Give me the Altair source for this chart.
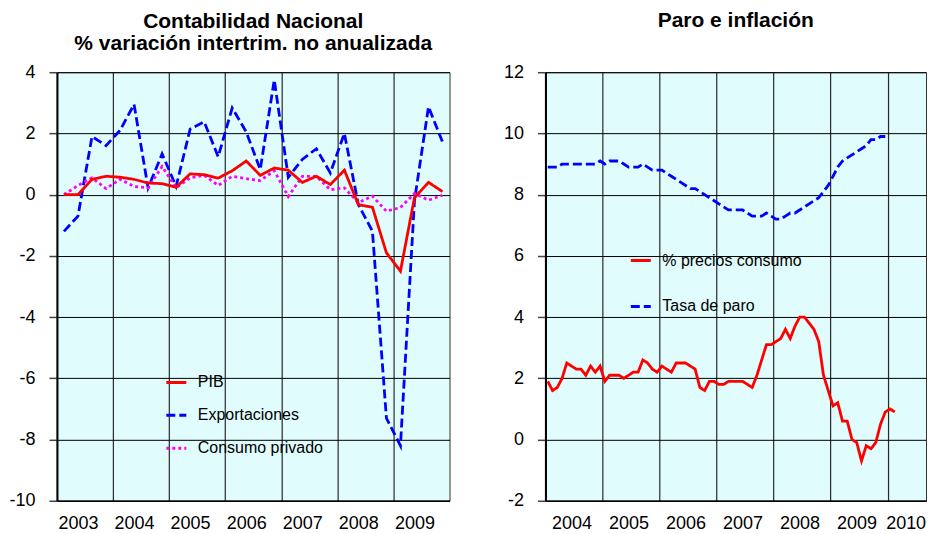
import altair as alt
import pandas as pd

FONT = "Liberation Sans"

# ---------------- Left panel: quarterly national accounts (2003Q1 - 2009Q4)
left_years = [2003, 2004, 2005, 2006, 2007, 2008, 2009]
left_start = 2003
series_left = ["PIB", "Exportaciones", "Consumo privado"]
pib = [0.0, 0.0, 0.5, 0.6, 0.57, 0.5, 0.38, 0.36, 0.24, 0.68, 0.65, 0.54,
       0.78, 1.1, 0.63, 0.87, 0.8, 0.4, 0.6, 0.33, 0.8, -0.33, -0.41, -1.9,
       -2.5, -0.1, 0.4, 0.1]
exportaciones = [-1.2, -0.7, 1.9, 1.6, 2.1, 2.95, 0.22, 1.33, 0.27, 2.14, 2.38, 1.24,
                 2.83, 2.05, 0.82, 3.75, 0.57, 1.15, 1.5, 0.71, 2.0, -0.33, -1.19, -7.3,
                 -8.2, -0.2, 2.87, 1.72]
consumo = [0.0, 0.3, 0.55, 0.2, 0.5, 0.27, 0.22, 0.92, 0.22, 0.55, 0.63, 0.3,
           0.6, 0.52, 0.46, 0.78, -0.06, 0.6, 0.6, 0.16, 0.22, -0.26, -0.05, -0.54,
           -0.42, 0.04, -0.18, -0.02]
left_ticks = [-10, -8, -6, -4, -2, 0, 2, 4]

# ---------------- Right panel: monthly inflation (Jan 2004 - Feb 2010) and unemployment (Jan 2004 - Dec 2009)
right_years = [2004, 2005, 2006, 2007, 2008, 2009, 2010]
right_start = 2004
series_right = ["% precios consumo", "Tasa de paro"]
precios = [1.9, 1.6, 1.7, 2.0, 2.5, 2.4, 2.3, 2.3, 2.1, 2.4, 2.2, 2.4,
           1.9, 2.1, 2.1, 2.1, 2.0, 2.1, 2.2, 2.2, 2.6, 2.5, 2.3, 2.2,
           2.4, 2.3, 2.2, 2.5, 2.5, 2.5, 2.4, 2.3, 1.7, 1.6, 1.9, 1.9,
           1.8, 1.8, 1.9, 1.9, 1.9, 1.9, 1.8, 1.7, 2.1, 2.6, 3.1, 3.1,
           3.2, 3.3, 3.6, 3.3, 3.7, 4.0, 4.0, 3.8, 3.6, 3.2, 2.1, 1.6,
           1.1, 1.2, 0.6, 0.6, 0.0, -0.1, -0.7, -0.2, -0.3, -0.1, 0.5, 0.9,
           1.0, 0.9]
paro = [8.9, 8.9, 8.9, 9.0, 9.0, 9.0, 9.0, 9.0, 9.0, 9.0, 9.0, 9.1,
        9.0, 9.1, 9.1, 9.1, 9.0, 8.9, 8.9, 8.9, 9.0, 8.9, 8.8, 8.8,
        8.8, 8.7, 8.6, 8.5, 8.4, 8.3, 8.2, 8.2, 8.1, 8.0, 7.9, 7.8,
        7.7, 7.6, 7.5, 7.5, 7.5, 7.5, 7.4, 7.3, 7.3, 7.3, 7.4, 7.3,
        7.2, 7.2, 7.3, 7.4, 7.4, 7.5, 7.6, 7.7, 7.8, 7.9, 8.1, 8.3,
        8.6, 8.9, 9.1, 9.2, 9.3, 9.4, 9.5, 9.6, 9.8, 9.8, 9.9, 9.9]
right_ticks = [-2, 0, 2, 4, 6, 8, 10, 12]

# ---------------- tables (draw order: last series on top)
rows = []
for name, vals in [("Exportaciones", exportaciones), ("Consumo privado", consumo), ("PIB", pib)]:
    for i, v in enumerate(vals):
        rows.append({"t": left_start + (i + 0.5) / 4, "v": v, "serie": name})
df_left = pd.DataFrame(rows)

rows = []
for name, vals in [("Tasa de paro", paro), ("% precios consumo", precios)]:
    for i, v in enumerate(vals):
        rows.append({"t": right_start + (i + 0.5) / 12, "v": v, "serie": name})
df_right = pd.DataFrame(rows)


def x_axis(values, offset):
    return alt.Axis(values=values, format="d", labelOffset=offset, labelFlush=False,
                    labelOverlap=False, ticks=False, labelPadding=14, grid=True,
                    gridColor="#2a2a2a", gridWidth=1.2, domainColor="#000", domainWidth=1.5,
                    title=None, labelFontSize=18, labelFont=FONT, labelColor="#000")


def y_axis(values):
    return alt.Axis(values=values, labelExpr="'' + datum.value", tickSize=8,
                    tickColor="#444", tickWidth=1.5,
                    labelPadding=14, grid=True, gridColor="#000", gridWidth=1,
                    domainColor="#000", domainWidth=2, title=None,
                    labelFontSize=18, labelFont=FONT, labelColor="#000")


def legend(x, y, row_pad):
    return alt.Legend(orient="none", legendX=x, legendY=y, title=None,
                      symbolType="stroke", symbolSize=400, symbolStrokeWidth=3,
                      labelFontSize=16, labelFont=FONT, labelColor="#000",
                      rowPadding=row_pad, labelOffset=10)


left = alt.Chart(df_left).mark_line(strokeWidth=2.8, strokeCap="butt").encode(
    x=alt.X("t:Q", scale=alt.Scale(domain=[2003, 2010], nice=False, zero=False),
            axis=x_axis(left_years, 21)),
    y=alt.Y("v:Q", scale=alt.Scale(domain=[-10, 4], nice=False, zero=False),
            axis=y_axis(left_ticks)),
    color=alt.Color("serie:N", scale=alt.Scale(domain=series_left,
                    range=["#FF0000", "#0000FF", "#FF00FF"]), legend=legend(108, 299, 13)),
    strokeDash=alt.StrokeDash("serie:N", scale=alt.Scale(domain=series_left,
                              range=[[1, 0], [9, 4], [3, 3]]), legend=legend(108, 299, 13)),
).properties(
    width=393, height=429,
    title=alt.TitleParams(["Contabilidad Nacional", "% variación intertrim. no anualizada"],
                          fontSize=21, fontWeight="bold", font=FONT, color="#000",
                          anchor="middle", baseline="bottom", offset=-12, lineHeight=22),
)

right_axis = x_axis(right_years, 26)
right_axis["labelOffset"] = {"condition": {"test": "datum.value === 2010", "value": 18}, "value": 26}

right = alt.Chart(df_right).mark_line(strokeWidth=2.8, strokeCap="butt").encode(
    x=alt.X("t:Q", scale=alt.Scale(domain=[2004, 2004 + 381 / 57.1], nice=False, zero=False),
            axis=right_axis),
    y=alt.Y("v:Q", scale=alt.Scale(domain=[-2, 12], nice=False, zero=False),
            axis=y_axis(right_ticks)),
    color=alt.Color("serie:N", scale=alt.Scale(domain=series_right,
                    range=["#FF0000", "#0000FF"]), legend=legend(84, 177, 26)),
    strokeDash=alt.StrokeDash("serie:N", scale=alt.Scale(domain=series_right,
                              range=[[1, 0], [9, 4]]), legend=legend(84, 177, 26)),
).properties(
    width=381, height=429,
    title=alt.TitleParams("Paro e inflación", fontSize=21, fontWeight="bold", font=FONT,
                          color="#000", anchor="middle", baseline="bottom", offset=11),
)

chart = alt.hconcat(left, right, spacing=96, bounds="flush").resolve_scale(
    color="independent", strokeDash="independent", x="independent", y="independent"
).resolve_legend(color="independent", strokeDash="independent").properties(
    padding={"left": 0, "top": 1, "right": 0, "bottom": 0}
).configure_view(fill="#E0FCFC", stroke="#333", strokeWidth=1)

chart.save("out.html", embed_options={"renderer": "svg", "actions": False})
